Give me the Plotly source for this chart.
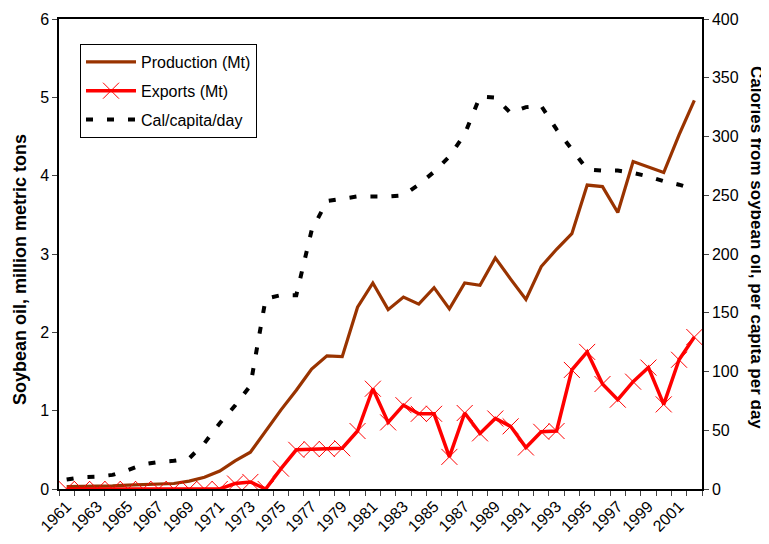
import plotly.graph_objects as go

years = list(range(1961, 2003))
categories = [str(y) for y in years]
tick_labels = [str(y) if (y - 1961) % 2 == 0 else "" for y in years]

production = [0.03, 0.03, 0.03, 0.04, 0.05, 0.06, 0.06, 0.07, 0.10, 0.15,
              0.23, 0.36, 0.47, 0.74, 1.01, 1.26, 1.53, 1.70, 1.69, 2.32,
              2.63, 2.29, 2.45, 2.36, 2.57, 2.30, 2.63, 2.60, 2.95, 2.68,
              2.42, 2.84, 3.06, 3.26, 3.88, 3.86, 3.53, 4.18, 4.11, 4.04,
              4.52, 4.96]

exports = [0, 0, 0, 0, 0, 0, 0, 0, 0, 0,
           0, 0.07, 0.09, 0, 0.26, 0.50, 0.51, 0.51, 0.52, 0.74,
           1.28, 0.85, 1.07, 0.96, 0.96, 0.41, 0.97, 0.71, 0.90, 0.80,
           0.53, 0.73, 0.74, 1.52, 1.75, 1.34, 1.14, 1.37, 1.55, 1.08,
           1.65, 1.94]

calories = [8, 10, 10.5, 12, 16, 21, 23, 24, 26, 39,
            56, 71, 88, 162, 165, 165, 220, 245, 247, 249,
            249, 249, 250, 259, 270, 283, 302, 334, 333, 320,
            325, 326, 306, 289, 272, 271, 271, 269, 266, 262,
            259, 255]

FONT = "Liberation Sans, Arial, sans-serif"

# page has an 8px body margin; figure is sized to fit the window
W, H = 761, 536
OFF = 8
L, T = 59 - OFF, 19 - OFF
R = W - (702 - OFF)
B = H - (489 - OFF)

fig = go.Figure()
fig.add_trace(go.Scatter(
    x=categories, y=production, name="Production (Mt)", mode="lines",
    line=dict(color="#993300", width=3.2), legendgroup="a"))
fig.add_trace(go.Scatter(
    x=categories, y=exports, name="Exports (Mt)", mode="lines+markers",
    line=dict(color="#FF0000", width=3.5),
    marker=dict(symbol="x-thin-open", size=16, line=dict(color="#FF0000", width=1)),
    legendgroup="b"))
fig.add_trace(go.Scatter(
    x=categories, y=calories, name="Cal/capita/day", mode="lines", yaxis="y2",
    line=dict(color="black", width=4, dash="7px,14px"), legendgroup="c"))

pw = W - L - R
ph = H - T - B


def px_to_paper(px, py):
    return ((px - OFF) - L) / pw, (H - B - (py - OFF)) / ph


lx, ly = px_to_paper(80, 44)
t1x, t1y = px_to_paper(20, 270)
t2x, t2y = px_to_paper(757, 247)

fig.update_layout(
    width=W, height=H,
    margin=dict(l=L, r=R, t=T, b=B, autoexpand=False),
    paper_bgcolor="white", plot_bgcolor="white",
    font=dict(family=FONT, size=14, color="black"),
    showlegend=True,
    legend=dict(x=lx, y=ly, xanchor="left", yanchor="top",
                bordercolor="black", borderwidth=1, bgcolor="white",
                font=dict(size=16), tracegroupgap=5, traceorder="grouped",
                itemwidth=50),
    xaxis=dict(type="category", categoryorder="array", categoryarray=categories,
               tickvals=categories, ticktext=tick_labels, tickangle=-45,
               tickson="boundaries", ticks="outside", ticklen=5,
               showline=True, linecolor="black", linewidth=1.5, mirror=True,
               showgrid=False, zeroline=False, range=[-0.5, 41.5],
               tickfont=dict(size=16)),
    yaxis=dict(range=[0, 6], dtick=1, ticks="outside", ticklen=5,
               showline=True, linecolor="black", linewidth=1.5,
               showgrid=False, zeroline=False, tickfont=dict(size=16)),
    yaxis2=dict(range=[0, 400], dtick=50, ticks="outside", ticklen=5,
                overlaying="y", side="right",
                showline=True, linecolor="black", linewidth=1.5,
                showgrid=False, zeroline=False, tickfont=dict(size=16)),
    annotations=[
        dict(text="<b>Soybean oil, million metric tons</b>", textangle=-90,
             x=t1x, y=t1y, xref="paper", yref="paper", showarrow=False,
             xanchor="center", yanchor="middle", font=dict(size=18)),
        dict(text="<b>Calories from soybean oil, per capita per day</b>", textangle=90,
             x=t2x, y=t2y, xref="paper", yref="paper", showarrow=False,
             xanchor="center", yanchor="middle", font=dict(size=17)),
    ],
)

fig.write_html("out.html")
